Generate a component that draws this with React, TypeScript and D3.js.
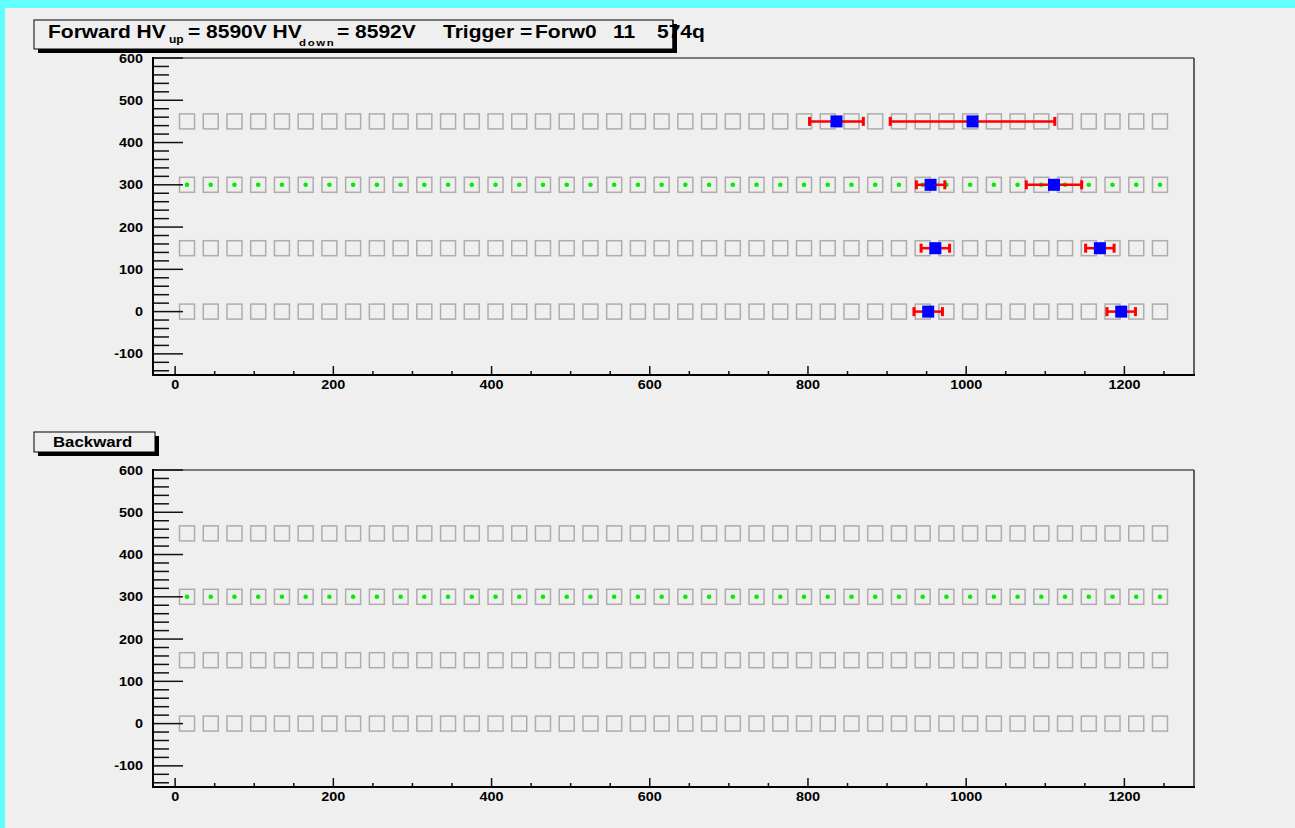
import React from "react";
import * as d3 from "d3";

// Detector cell centres along the tube row (mm) and the four layer heights
const cellX = [
  15, 45, 75, 105, 135, 165, 195, 225, 255, 285, 315, 345, 375, 405,
  435, 465, 495, 525, 555, 585, 615, 645, 675, 705, 735, 765, 795, 825,
  855, 885, 915, 945, 975, 1005, 1035, 1065, 1095, 1125, 1155, 1185, 1215, 1245,
];
const layerY = [0, 150, 300, 450];
// Layer whose cells are flagged (green dot) in both views
const flaggedLayerY = 300;

// Forward hits: position, layer, horizontal uncertainty
const forwardHitX = [836, 1008, 955, 1111, 961, 1169, 952, 1196];
const forwardHitY = [450, 450, 300, 300, 150, 150, 0, 0];
const forwardHitErr = [34, 104, 18, 35, 18, 18, 18, 18];

// Backward view has no reconstructed hits in this event
const backwardHitX: number[] = [];
const backwardHitY: number[] = [];
const backwardHitErr: number[] = [];

const xTickLabels = [0, 200, 400, 600, 800, 1000, 1200];
const yTickLabels = [-100, 0, 100, 200, 300, 400, 500, 600];

const W = 1295;
const H = 828;
const FONT = "'Liberation Sans', Arial, Helvetica, sans-serif";
const BG = "#efefef";

const x = d3.scaleLinear().domain([-28, 1288]).range([153, 1194]);

function Txt(props: {
  x: number;
  y: number;
  size: number;
  anchor?: string;
  spacing?: number;
  children: React.ReactNode;
}) {
  return (
    <text
      transform={`translate(${props.x},${props.y}) scale(1.2,1)`}
      fontSize={props.size}
      fontWeight="bold"
      fontFamily={FONT}
      textAnchor={props.anchor || "start"}
      letterSpacing={props.spacing || 0}
      fill="#000"
    >
      {props.children}
    </text>
  );
}

function Panel(props: {
  top: number;
  bottom: number;
  hx: number[];
  hy: number[];
  herr: number[];
}) {
  const { top, bottom, hx, hy, herr } = props;
  const left = 153;
  const right = 1194;
  const y = d3.scaleLinear().domain([-150, 600]).range([bottom, top]);
  const yMinor = d3.range(-140, 601, 20).filter((v) => v % 100 !== 0);
  const xMinor = d3.range(0, 1281, 50).filter((v) => v % 200 !== 0);
  const hits = hx.map((v, i) => ({ x: v, y: hy[i], e: herr[i] }));
  const sq = 15;
  const bs = 12;
  return (
    <g>
      {/* frame */}
      <line x1={left} x2={right} y1={top} y2={top} stroke="#555" strokeWidth={1.5} />
      <line x1={right} x2={right} y1={top} y2={bottom} stroke="#333" strokeWidth={1.5} />
      {/* cells */}
      {layerY.map((ly) =>
        cellX.map((cx) => (
          <rect
            key={`c${ly}-${cx}`}
            x={x(cx) - sq / 2}
            y={y(ly) - sq / 2}
            width={sq}
            height={sq}
            fill="none"
            stroke="#adadad"
            strokeWidth={1.5}
          />
        ))
      )}
      {cellX.map((cx) => (
        <circle key={`g${cx}`} cx={x(cx)} cy={y(flaggedLayerY)} r={2.3} fill="#00ee00" />
      ))}
      {/* hits with error bars */}
      {hits.map((h, i) => (
        <g key={`h${i}`}>
          <line x1={x(h.x - h.e)} x2={x(h.x + h.e)} y1={y(h.y)} y2={y(h.y)} stroke="#ff0000" strokeWidth={2.5} />
          <line x1={x(h.x - h.e)} x2={x(h.x - h.e)} y1={y(h.y) - 4.5} y2={y(h.y) + 4.5} stroke="#ff0000" strokeWidth={3} />
          <line x1={x(h.x + h.e)} x2={x(h.x + h.e)} y1={y(h.y) - 4.5} y2={y(h.y) + 4.5} stroke="#ff0000" strokeWidth={3} />
        </g>
      ))}
      {hits.map((h, i) => (
        <rect key={`b${i}`} x={x(h.x) - bs / 2} y={y(h.y) - bs / 2} width={bs} height={bs} fill="#0000ff" />
      ))}
      {/* y axis */}
      {yMinor.map((v) => (
        <line key={`ym${v}`} x1={left} x2={left + 16} y1={y(v)} y2={y(v)} stroke="#111" strokeWidth={1.5} />
      ))}
      {yTickLabels.map((v) => (
        <g key={`yt${v}`}>
          <line x1={left} x2={left + 30} y1={y(v)} y2={y(v)} stroke="#111" strokeWidth={1.5} />
          <Txt x={143} y={y(v) + 4.5} size={12} anchor="end">
            {v}
          </Txt>
        </g>
      ))}
      {/* x axis */}
      {xMinor.map((v) => (
        <line key={`xm${v}`} x1={x(v)} x2={x(v)} y1={bottom} y2={bottom - 4} stroke="#111" strokeWidth={1.5} />
      ))}
      {xTickLabels.map((v) => (
        <g key={`xt${v}`}>
          <line x1={x(v)} x2={x(v)} y1={bottom} y2={bottom - 9} stroke="#111" strokeWidth={1.5} />
          <Txt x={x(v)} y={bottom + 14} size={12} anchor="middle">
            {v}
          </Txt>
        </g>
      ))}
      <line x1={left} x2={left} y1={top - 1} y2={bottom + 1} stroke="#000" strokeWidth={2} />
      <line x1={left - 1} x2={right + 1} y1={bottom} y2={bottom} stroke="#000" strokeWidth={2} />
    </g>
  );
}

export default function App() {
  return (
    <svg
      width={W}
      height={H}
      viewBox={`0 0 ${W} ${H}`}
      style={{ position: "fixed", left: 0, top: 0, display: "block" }}
    >
      <rect x={0} y={0} width={W} height={H} fill="#62ffff" />
      <rect x={5} y={8} width={W - 5} height={H - 8} fill={BG} />

      <Panel top={58} bottom={375} hx={forwardHitX} hy={forwardHitY} herr={forwardHitErr} />
      <Panel top={470} bottom={787} hx={backwardHitX} hy={backwardHitY} herr={backwardHitErr} />

      {/* title box: Forward */}
      <rect x={38} y={24} width={639} height={29} fill="#000" />
      <rect x={34} y={20} width={639} height={29} fill={BG} stroke="#000" strokeWidth={1} />
      <Txt x={48} y={38} size={17.5}>Forward HV</Txt>
      <Txt x={169} y={43} size={10}>up</Txt>
      <Txt x={188} y={38} size={17.5}>= 8590V HV</Txt>
      <Txt x={299} y={46} size={9.5} spacing={1.4}>down</Txt>
      <Txt x={337} y={38} size={17.5}>= 8592V</Txt>
      <Txt x={443} y={38} size={17.5}>Trigger =</Txt>
      <Txt x={535} y={38} size={17.5}>Forw0</Txt>
      <Txt x={613} y={38} size={17.5}>11</Txt>
      <Txt x={657} y={38} size={17.5}>574q</Txt>
      <line x1={673} x2={673} y1={20} y2={49} stroke="#000" strokeWidth={1} />
      <rect x={673.5} y={24} width={3.5} height={29} fill="#000" />

      {/* title box: Backward */}
      <rect x={38} y={436} width={121} height={20} fill="#000" />
      <rect x={34} y={432} width={121} height={20} fill={BG} stroke="#000" strokeWidth={1} />
      <Txt x={53} y={447} size={14}>Backward</Txt>
    </svg>
  );
}
